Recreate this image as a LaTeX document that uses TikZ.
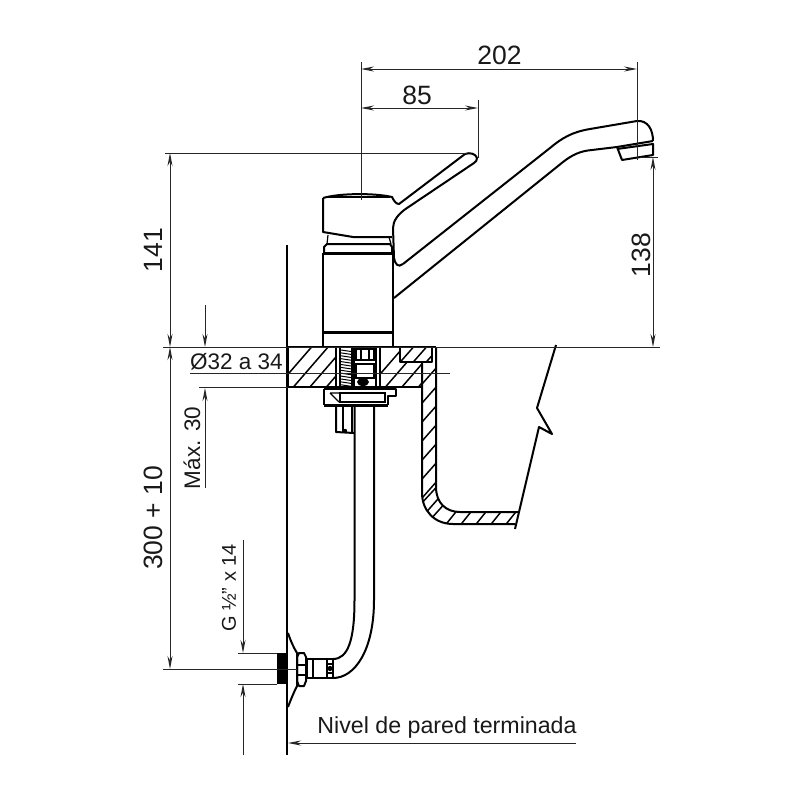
\documentclass[tikz,border=0pt]{standalone}
\usepackage{fontspec}
\setmainfont{Liberation Sans}
\usetikzlibrary{arrows.meta}
\tikzset{
  part/.style={line width=2pt,draw=black,line join=round},
  heavy/.style={line width=3pt,draw=black},
  thin part/.style={line width=1.2pt,draw=black},
  hatch/.style={line width=1.5pt,draw=black},
  ext/.style={line width=0.9pt,draw=black!85},
  dim/.style={line width=0.9pt,draw=black!85,{Stealth[length=13pt,width=5pt]}-{Stealth[length=13pt,width=5pt]}},
  lead/.style={line width=0.9pt,draw=black!85,-{Stealth[length=13pt,width=5pt]}},
  big/.style={inner sep=0pt,font=\fontsize{26.5}{28}\selectfont,text=black!90},
  mid/.style={inner sep=0pt,font=\fontsize{22.5}{24}\selectfont,text=black!90},
  wide/.style={inner sep=0pt,font=\fontsize{23.2}{24}\selectfont,text=black!90},
  small/.style={inner sep=0pt,font=\fontsize{20}{22}\selectfont,text=black!90}
}
\begin{document}
\begin{tikzpicture}[x=1pt,y=-1pt]
\useasboundingbox (0,0) rectangle (800,800);

% ---------- coordinates for dimensions
\coordinate (d202a) at (361,69);  \coordinate (d202b) at (637,69);
\coordinate (d85a) at (361,108);  \coordinate (d85b) at (478,108);
\coordinate (d141a) at (170,153); \coordinate (d141b) at (170,347);
\coordinate (d310a) at (170,347); \coordinate (d310b) at (170,669);
\coordinate (d138a) at (653,157); \coordinate (d138b) at (653,347);
\coordinate (o1) at (205,305);    \coordinate (o2) at (205,347);
\coordinate (m1) at (205,488);    \coordinate (m2) at (205,388);
\coordinate (g1) at (243,540);    \coordinate (g2) at (243,653);
\coordinate (g3) at (243,755);    \coordinate (g4) at (243,684);
\coordinate (w1) at (576,743);    \coordinate (w2) at (288,743);

% ---------- hatching of the counter
\begin{scope}
\clip (288,347) rectangle (336,387);
\foreach \k in {0,...,6} \draw[hatch] (270+16.5*\k,395) -- ++(52,-60);
\end{scope}
\begin{scope}
\clip (380,347) -- (400,347) -- (400,362) -- (422,362) -- (422,387) -- (380,387) -- cycle;
\foreach \k in {0,...,6} \draw[hatch] (362+16.5*\k,395) -- ++(52,-60);
\end{scope}
\begin{scope}
\clip (400,347) rectangle (432,362);
\foreach \k in {0,...,4} \draw[hatch] (395+13*\k,368) -- ++(22,-25);
\end{scope}
% ---------- hatching of the sink wall
\begin{scope}
\clip (422,347) -- (436,347) -- (436,487) .. controls (436,503) and (446,512) .. (460,512)
  -- (518,512) -- (515,524) -- (453,524) .. controls (434,524) and (422,510) .. (422,493) -- cycle;
\foreach \k in {0,...,7} \draw[hatch] (415,392+19*\k) -- ++(30,-34);
\draw[hatch] (420,505) -- ++(24,-26);
\draw[hatch] (430,520) -- ++(17,-19);
\foreach \k in {0,...,5} \draw[hatch] (443+15*\k,528) -- ++(16,-20);
\end{scope}

% ---------- counter and sink outline
\draw[part] (288,347) -- (288,387);
\draw[part] (336,347) -- (336,387);
\draw[part] (380,347) -- (380,387);
\draw[part] (400,347) -- (400,362) -- (432,362) -- (432,347);
\draw[part] (422,362) -- (422,493) .. controls (422,510) and (434,524) .. (453,524) -- (515,524);
\draw[part] (436,347) -- (436,487) .. controls (436,503) and (446,512) .. (460,512) -- (518,512);
\draw[part] (556,345) -- (537,408) -- (552,434) -- (539,427) -- (515,529);
\draw[thin part] (288,387) -- (422,387);
\draw[thin part] (288,347) -- (436,347);

% ---------- central mechanism
\draw[thin part] (340,347) -- (340,387);
\draw[thin part] (352,347) -- (352,387);
\foreach \k in {0,...,12} \draw[line width=1pt] (341,350+2.9*\k) -- (351,351.5+2.9*\k);
\draw[thin part] (354,347) -- (354,387);
\draw[thin part] (376,347) -- (376,387);
\draw[thin part] (356,349) rectangle (374,360);
\draw[thin part] (361,349) -- (361,360) (369,349) -- (369,360);
\draw[thin part] (356,364) rectangle (374,378);
\fill (363,382) ellipse (6pt and 4pt);

% ---------- plate and stud
\draw[part] (324,389) -- (396,389) -- (396,395.5) -- (388,395.5) -- (388,405);
\draw[part] (324,389) -- (324,405);
\draw[thin part] (340,393) rectangle (385,402);
\draw[thin part] (330,393) -- (339,402) (330,393) -- (340,393);
\draw[heavy] (324,405.5) -- (388,405.5);
\draw[part] (336,407) -- (336,432) -- (354,433);
\draw[thin part] (343,407) -- (343,432);
\draw[part] (352,407) -- (352,432);
\fill (345,431) circle (2.2pt);

% ---------- supply pipe
\draw[part] (354.5,407) -- (354.5,600) .. controls (354.5,640) and (348,659) .. (333,659);
\draw[part] (374,407) -- (374,600) .. controls (374,650) and (355,678) .. (333,678);

% ---------- wall connection
\fill (277,653) rectangle (288,684);
\draw[part] (288,633) .. controls (291,642) and (294,648) .. (297,653) -- (297,686)
  .. controls (294,692) and (291,699) .. (288,707);
\draw[part] (299,653) -- (304,653) -- (306,657) -- (306,681) -- (304,686) -- (299,686) -- (297,681) -- (297,657) -- cycle;
\draw[thin part] (297,665) -- (306,665) (297,675) -- (306,675);
\draw[part] (307,659) rectangle (327,678);
\draw[thin part] (313,659) -- (313,678);
\draw[part] (327,659) rectangle (333,678);
\fill (330,668.5) circle (2.6pt);
\draw[thin part] (327,664) -- (333,664) (327,673) -- (333,673);

% ---------- faucet body
\draw[part] (323,253) -- (323,347);
\draw[part] (393,253) -- (393,347);
\draw[heavy] (323,253) -- (393,253);
\draw[heavy] (323,332) -- (393,332);
\draw[part] (324,253) -- (324,247) -- (327,244) -- (390,244) -- (392,247) -- (392,253);
\draw[thin part] (328,235) -- (327,244);
\draw[thin part] (389,237) -- (391,244);

% ---------- lever
\draw[part] (323,198) .. controls (340,193) and (375,193) .. (392,197)
  .. controls (394,201) and (396,204) .. (399,204) -- (465,154)
  .. controls (470,152) and (476,154) .. (477,158) .. controls (477,161) and (476,161) .. (474,163)
  -- (407,208) .. controls (398,214) and (393,221) .. (393,228)
  -- (394,258) .. controls (395,264) and (398,268) .. (403,264);
\draw[part] (323,198) -- (323,232) -- (353,237) -- (392,237);
\draw[thin part] (327,197) -- (390,197);

% ---------- spout
\draw[part] (403,264) -- (550,148) .. controls (562,138) and (572,132) .. (590,129)
  -- (637,121) .. controls (648,120) and (653,130) .. (653,141);
\draw[part] (394,298) -- (563,162) .. controls (572,155) and (580,151) .. (592,150)
  -- (617,147) -- (653,141);
\draw[part] (617,147) -- (622,160) -- (653,155) -- (653,144) -- (617,149);

% ---------- wall line and reference lines
\draw[thin part] (287,245) -- (287,755);
\draw[ext] (163,347) -- (660,347);
\draw[ext] (190,373.5) -- (450,373.5);
\draw[ext] (199,387) -- (288,387);
\draw[ext] (165,153) -- (467,153);
\draw[ext] (361,62) -- (361,200);
\draw[ext] (637,62) -- (637,160);
\draw[ext] (478,100) -- (478,158);
\draw[ext] (640,157) -- (658,157);
\draw[ext] (163,669) -- (297,669);
\draw[ext] (238,653) -- (277,653);
\draw[ext] (238,684) -- (277,684);

% ---------- dimensions
\draw[dim] (d202a) -- (d202b);
\draw[dim] (d85a) -- (d85b);
\draw[dim] (d141a) -- (d141b);
\draw[dim] (d310a) -- (d310b);
\draw[dim] (d138a) -- (d138b);
\draw[lead] (o1) -- (o2);
\draw[lead] (m1) -- (m2);
\draw[lead] (g1) -- (g2);
\draw[lead] (g3) -- (g4);
\draw[lead] (w1) -- (w2);

% ---------- texts
\node[big] (t202) at (499.5,55) {202};
\node[big] (t85) at (417,95) {85};
\node[big,rotate=90] (t141) at (153,250) {141};
\node[big,rotate=90] (t138) at (641,255) {138};
\node[big,rotate=90] (t310) at (153,518) {300 + 10};
\node[mid] (tdia) at (236.5,362) {Ø32 a 34};
\node[mid,rotate=90] (tmax) at (192,448) {Máx. 30};
\node[small,rotate=90] (tg) at (229,588) {G ½” x 14};
\node[wide] (tniv) at (447,727) {Nivel de pared terminada};
\end{tikzpicture}
\end{document}
